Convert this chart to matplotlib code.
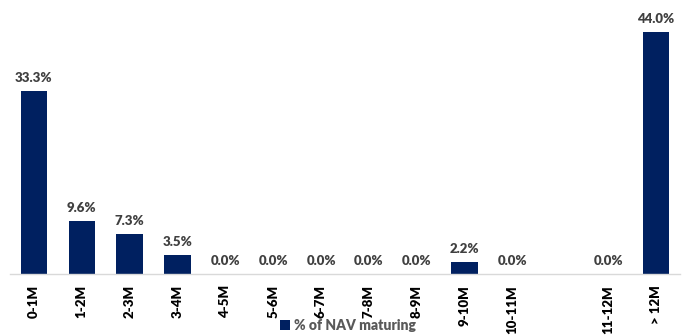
import matplotlib
matplotlib.use("Agg")
import matplotlib.pyplot as plt
import numpy as np

categories = ["0-1M", "1-2M", "2-3M", "3-4M", "4-5M", "5-6M", "6-7M", "7-8M",
              "8-9M", "9-10M", "10-11M", "", "11-12M", "> 12M"]
values = [33.3, 9.6, 7.3, 3.5, 0.0, 0.0, 0.0, 0.0, 0.0, 2.2, 0.0, np.nan, 0.0, 44.0]
series_name = "% of NAV maturing"

plt.rcParams['font.family'] = ['Lato', 'DejaVu Sans']

W, H = 682, 335
fig = plt.figure(figsize=(W / 100, H / 100), dpi=100)
ax = fig.add_axes([10 / W, (H - 274) / H, 670 / W, 274 / H])

x = np.arange(len(categories))
vals = np.array(values, dtype=float)
mask = ~np.isnan(vals)
bar_color = "#002060"
ax.bar(x[mask], vals[mask], width=0.55, color=bar_color, label=series_name)

for xi, v in zip(x[mask], vals[mask]):
    ax.annotate(f"{v:.1f}%", (xi, v), xytext=(0, 5), textcoords="offset points",
                ha="center", va="bottom", fontsize=9.5, fontweight="heavy", color="#404040")

ax.set_xlim(-0.5, len(categories) - 0.5)
ax.set_ylim(0, 274 / 5.5)
ax.set_xticks(x)
ax.set_xticklabels(categories, rotation=90, fontsize=9.5, fontweight="heavy", color="#000000")
ax.tick_params(axis="x", length=0, pad=8)
ax.set_yticks([])
for s in ["top", "right", "left"]:
    ax.spines[s].set_visible(False)
ax.spines["bottom"].set_color("#d9d9d9")
ax.spines["bottom"].set_linewidth(1.0)

leg = fig.legend(handles=ax.containers[0:1], labels=[series_name], loc="center",
                 bbox_to_anchor=(348 / W, (H - 325) / H), frameon=False,
                 handlelength=0.7, handleheight=0.7, handletextpad=0.3,
                 prop={"size": 10, "weight": "heavy"})
for t in leg.get_texts():
    t.set_color("#595959")

fig.savefig("out.png", dpi=100)
